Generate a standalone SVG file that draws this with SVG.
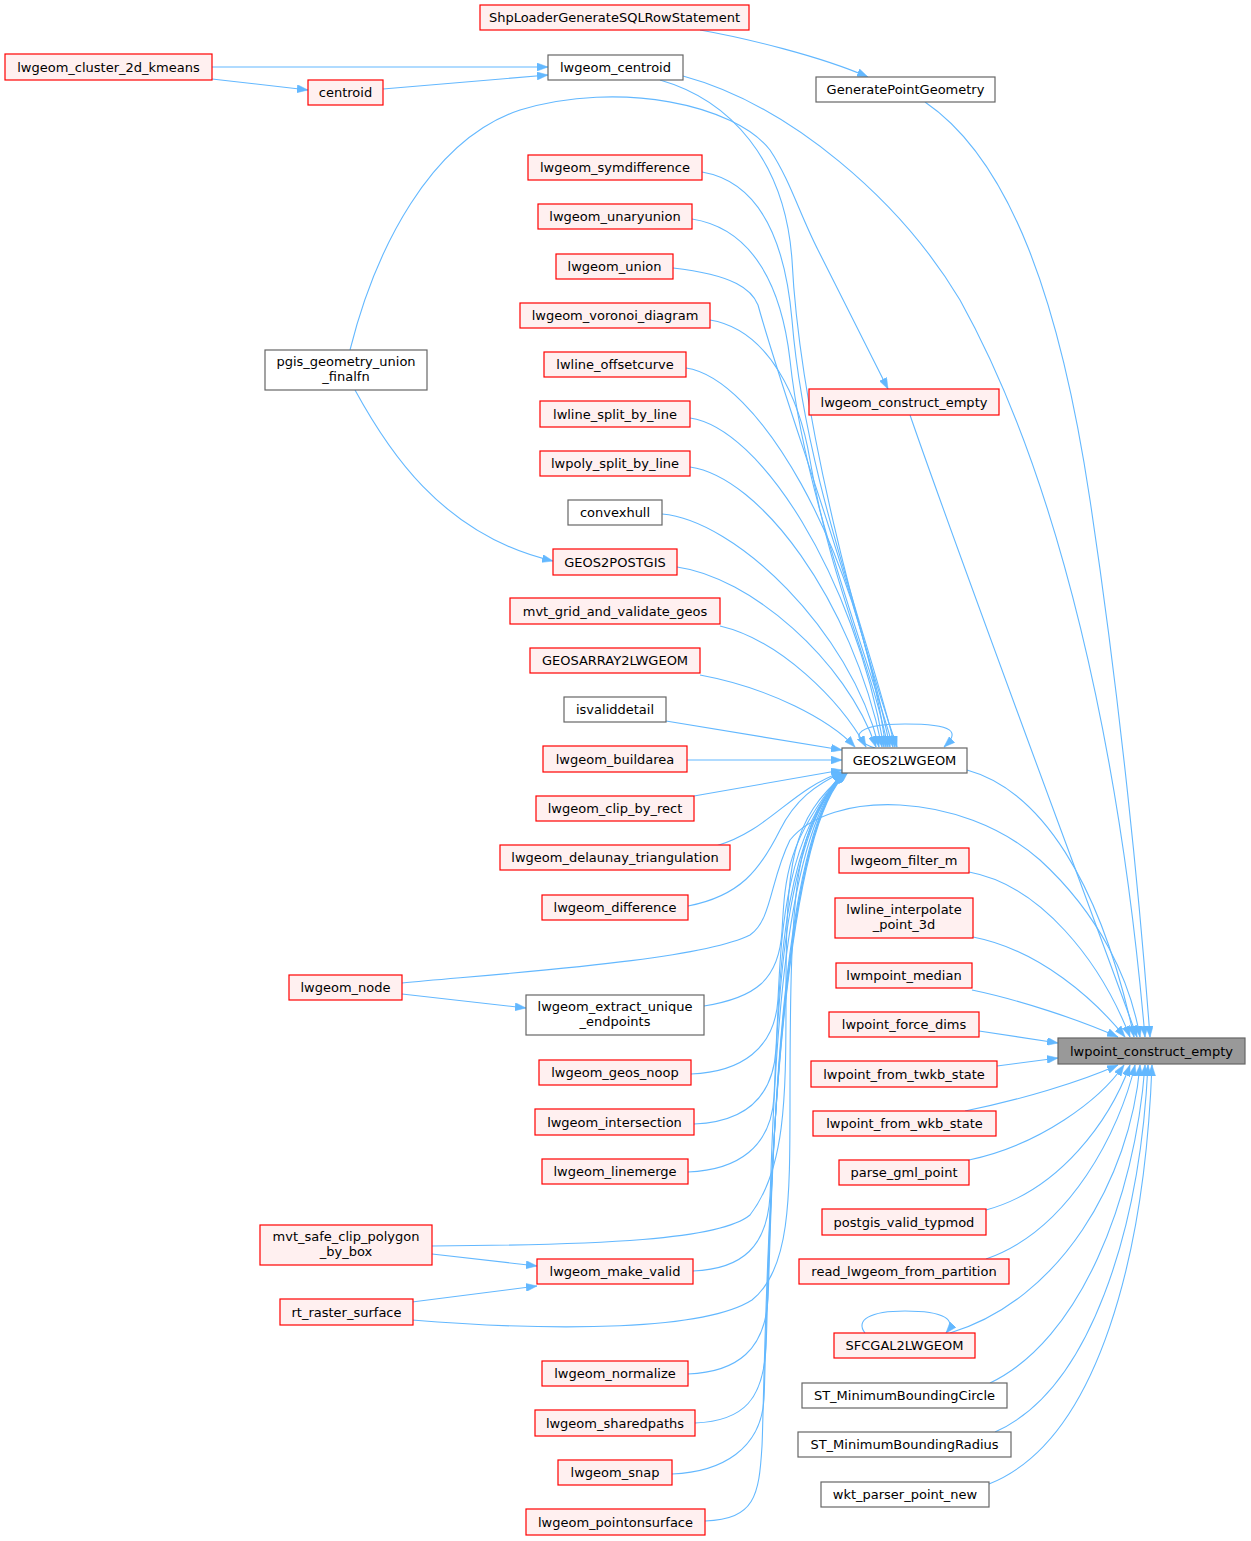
<svg xmlns="http://www.w3.org/2000/svg" width="1251" height="1541" viewBox="0 0 1251 1541">
<style>
.r rect{fill:#fff0f0;stroke:#ff0000;stroke-width:1.2}
.w rect{fill:#ffffff;stroke:#666666;stroke-width:1.2}
.t rect{fill:#999999;stroke:#666666;stroke-width:1.2}
text{font-family:"DejaVu Sans","Liberation Sans",sans-serif;font-size:13px;fill:#000;text-anchor:middle}
#edges path{fill:none;stroke:#63b8ff;stroke-width:1.1;marker-end:url(#ah)}
</style>
<defs>
<marker id="ah" markerUnits="userSpaceOnUse" markerWidth="11" markerHeight="8" viewBox="0 0 11 8" refX="11" refY="4" orient="auto">
<path d="M0,0 L11,4 L0,8 z" fill="#63b8ff" stroke="#63b8ff" stroke-width="0.5"/>
</marker>
</defs>
<rect width="1251" height="1541" fill="#ffffff"/>
<g id="edges">
<!-- column 1 to column 2 -->
<path d="M212,67 L548,67"/>
<path d="M212,79 L308,90"/>
<path d="M383,89 L548,75"/>
<path d="M700,30 C 745,38 820,56 868,77"/>
<path d="M355,390 C 385,445 440,535 553,561"/>
<path d="M350,350 C 375,250 430,140 520,110 C 620,80 735,105 770,150 C 790,180 800,215 818,250 L 888,389"/>
<path d="M402,994 L526,1008"/>
<path d="M432,1254 L537,1266"/>
<path d="M412,1302 L537,1286"/>
<!-- into GEOS2LWGEOM from above -->
<path d="M660,80 C 730,100 785,160 792,260 C 800,420 860,640 897,747"/>
<path d="M702,172 C 760,182 785,240 792,320 C 805,480 870,640 895,747"/>
<path d="M692,219 C 755,229 782,290 790,360 C 805,500 866,650 893,747"/>
<path d="M673,268 C 735,275 752,290 758,305 C 790,420 860,600 890,747"/>
<path d="M710,320 C 770,330 800,400 810,460 C 830,580 870,660 888,747"/>
<path d="M686,368 C 756,378 856,540 886,747"/>
<path d="M690,418 C 760,428 854,575 884,747"/>
<path d="M690,467 C 760,477 852,600 882,747"/>
<path d="M662,514 C 735,520 850,630 879,747"/>
<path d="M677,567 C 750,577 846,660 876,747"/>
<path d="M720,626 C 780,640 840,700 866,747"/>
<path d="M700,675 C 770,688 830,720 855,747"/>
<path d="M666,721 L842,750"/>
<path d="M687,760 L842,760"/>
<path d="M694,796 L842,770"/>
<!-- into GEOS2LWGEOM from below -->
<path d="M716,846 C 770,830 790,790 842,772"/>
<path d="M688,906 C 740,896 760,870 780,830 C 795,800 815,785 843,772"/>
<path d="M704,1006 C 754,998 779,981 782,931 C 785,876 787,840 843,772"/>
<path d="M691,1074 C 741,1072 775,1049 778,999 C 781,944 783,840 843,773"/>
<path d="M694,1124 C 744,1122 773,1099 776,1049 C 779,994 781,840 844,773"/>
<path d="M688,1172 C 738,1170 771,1147 774,1097 C 777,1042 779,840 844,773"/>
<path d="M693,1271 C 743,1269 767,1246 770,1196 C 773,1141 775,840 845,773"/>
<path d="M688,1374 C 738,1372 765,1349 768,1299 C 771,1244 773,840 845,773"/>
<path d="M695,1423 C 745,1421 763,1398 766,1348 C 769,1293 771,840 846,773"/>
<path d="M672,1474 C 722,1472 761,1449 764,1399 C 767,1344 769,840 846,773"/>
<path d="M705,1521 C 755,1519 759,1496 762,1446 C 765,1391 767,840 847,773"/>
<path d="M432,1246 C 600,1245 720,1240 750,1215 C 785,1170 786,1100 786,1000 C 786,860 790,820 847,772"/>
<path d="M412,1320 C 560,1332 705,1330 752,1300 C 790,1270 790,1200 790,1100 C 790,880 795,820 848,772"/>
<path d="M875,748 C 850,740 850,724 905,724 C 955,724 960,732 944,747"/>
<!-- into lwpoint_construct_empty -->
<path d="M402,983 C 520,972 700,960 750,935 C 772,920 770,880 790,840 C 830,790 960,790 1040,860 C 1100,915 1130,980 1140,1037"/>
<path d="M925,102 C 1010,160 1060,300 1090,500 C 1120,700 1140,900 1150,1037"/>
<path d="M683,76 C 790,105 900,200 960,300 C 1060,480 1120,750 1145,1037"/>
<path d="M910,415 C 960,560 1080,880 1137,1037"/>
<path d="M967,770 C 1040,790 1100,880 1134,1037"/>
<path d="M969,872 C 1040,885 1100,960 1130,1037"/>
<path d="M973,937 C 1040,950 1095,1000 1125,1037"/>
<path d="M972,990 C 1020,1000 1080,1020 1118,1037"/>
<path d="M979,1031 L1058,1043"/>
<path d="M997,1066 L1058,1058"/>
<path d="M965,1111 C 1020,1100 1080,1082 1118,1065"/>
<path d="M969,1160 C 1040,1145 1100,1100 1124,1065"/>
<path d="M986,1210 C 1060,1190 1110,1120 1130,1065"/>
<path d="M986,1259 C 1070,1230 1120,1130 1135,1065"/>
<path d="M950,1333 C 1060,1300 1130,1180 1140,1065"/>
<path d="M990,1383 C 1080,1340 1135,1200 1145,1065"/>
<path d="M995,1432 C 1090,1390 1140,1230 1148,1065"/>
<path d="M989,1484 C 1100,1440 1145,1250 1152,1065"/>
<path d="M865,1333 C 855,1320 870,1311 905,1311 C 945,1311 957,1320 946,1333"/>
</g>
<g id="n1" class="r"><rect x="5" y="54" width="207" height="26"/><text x="108.5" y="71.5">lwgeom_cluster_2d_kmeans</text></g>
<g id="n2" class="r"><rect x="308" y="80" width="75" height="25"/><text x="345.5" y="97">centroid</text></g>
<g id="n3" class="w"><rect x="265" y="350" width="162" height="40"/><text x="346" y="366">pgis_geometry_union</text><text x="346" y="381">_finalfn</text></g>
<g id="n4" class="r"><rect x="289" y="975" width="113" height="25"/><text x="345.5" y="992">lwgeom_node</text></g>
<g id="n5" class="r"><rect x="260" y="1225" width="172" height="40"/><text x="346" y="1241">mvt_safe_clip_polygon</text><text x="346" y="1256">_by_box</text></g>
<g id="n6" class="r"><rect x="280" y="1299" width="133" height="26"/><text x="346.5" y="1316.5">rt_raster_surface</text></g>
<g id="n7" class="r"><rect x="480" y="5" width="269" height="25"/><text x="614.5" y="22">ShpLoaderGenerateSQLRowStatement</text></g>
<g id="n8" class="w"><rect x="548" y="55" width="135" height="25"/><text x="615.5" y="72">lwgeom_centroid</text></g>
<g id="n9" class="r"><rect x="528" y="155" width="174" height="25"/><text x="615" y="172">lwgeom_symdifference</text></g>
<g id="n10" class="r"><rect x="538" y="204" width="154" height="25"/><text x="615" y="221">lwgeom_unaryunion</text></g>
<g id="n11" class="r"><rect x="556" y="254" width="117" height="25"/><text x="614.5" y="271">lwgeom_union</text></g>
<g id="n12" class="r"><rect x="520" y="303" width="190" height="25"/><text x="615" y="320">lwgeom_voronoi_diagram</text></g>
<g id="n13" class="r"><rect x="544" y="352" width="142" height="25"/><text x="615" y="369">lwline_offsetcurve</text></g>
<g id="n14" class="r"><rect x="540" y="401" width="150" height="26"/><text x="615" y="418.5">lwline_split_by_line</text></g>
<g id="n15" class="r"><rect x="540" y="451" width="150" height="25"/><text x="615" y="468">lwpoly_split_by_line</text></g>
<g id="n16" class="w"><rect x="568" y="500" width="94" height="25"/><text x="615" y="517">convexhull</text></g>
<g id="n17" class="r"><rect x="553" y="549" width="124" height="26"/><text x="615" y="566.5">GEOS2POSTGIS</text></g>
<g id="n18" class="r"><rect x="510" y="598" width="210" height="26"/><text x="615" y="615.5">mvt_grid_and_validate_geos</text></g>
<g id="n19" class="r"><rect x="530" y="648" width="170" height="25"/><text x="615" y="665">GEOSARRAY2LWGEOM</text></g>
<g id="n20" class="w"><rect x="564" y="697" width="102" height="25"/><text x="615" y="714">isvaliddetail</text></g>
<g id="n21" class="r"><rect x="543" y="746" width="144" height="26"/><text x="615" y="763.5">lwgeom_buildarea</text></g>
<g id="n22" class="r"><rect x="536" y="796" width="158" height="25"/><text x="615" y="813">lwgeom_clip_by_rect</text></g>
<g id="n23" class="r"><rect x="500" y="845" width="230" height="25"/><text x="615" y="862">lwgeom_delaunay_triangulation</text></g>
<g id="n24" class="r"><rect x="542" y="895" width="146" height="25"/><text x="615" y="912">lwgeom_difference</text></g>
<g id="n25" class="w"><rect x="526" y="995" width="178" height="40"/><text x="615" y="1011">lwgeom_extract_unique</text><text x="615" y="1026">_endpoints</text></g>
<g id="n26" class="r"><rect x="539" y="1060" width="152" height="25"/><text x="615" y="1077">lwgeom_geos_noop</text></g>
<g id="n27" class="r"><rect x="535" y="1109" width="159" height="26"/><text x="614.5" y="1126.5">lwgeom_intersection</text></g>
<g id="n28" class="r"><rect x="542" y="1159" width="146" height="25"/><text x="615" y="1176">lwgeom_linemerge</text></g>
<g id="n29" class="r"><rect x="537" y="1259" width="156" height="25"/><text x="615" y="1276">lwgeom_make_valid</text></g>
<g id="n30" class="r"><rect x="542" y="1361" width="146" height="25"/><text x="615" y="1378">lwgeom_normalize</text></g>
<g id="n31" class="r"><rect x="535" y="1410" width="160" height="26"/><text x="615" y="1427.5">lwgeom_sharedpaths</text></g>
<g id="n32" class="r"><rect x="558" y="1460" width="114" height="25"/><text x="615" y="1477">lwgeom_snap</text></g>
<g id="n33" class="r"><rect x="526" y="1509" width="179" height="26"/><text x="615.5" y="1526.5">lwgeom_pointonsurface</text></g>
<g id="n34" class="w"><rect x="816" y="77" width="179" height="25"/><text x="905.5" y="94">GeneratePointGeometry</text></g>
<g id="n35" class="r"><rect x="809" y="389" width="190" height="26"/><text x="904" y="406.5">lwgeom_construct_empty</text></g>
<g id="n36" class="w"><rect x="842" y="748" width="125" height="25"/><text x="904.5" y="765">GEOS2LWGEOM</text></g>
<g id="n37" class="r"><rect x="839" y="848" width="130" height="25"/><text x="904" y="865">lwgeom_filter_m</text></g>
<g id="n38" class="r"><rect x="835" y="898" width="138" height="40"/><text x="904" y="914">lwline_interpolate</text><text x="904" y="929">_point_3d</text></g>
<g id="n39" class="r"><rect x="836" y="963" width="136" height="25"/><text x="904" y="980">lwmpoint_median</text></g>
<g id="n40" class="r"><rect x="829" y="1012" width="150" height="25"/><text x="904" y="1029">lwpoint_force_dims</text></g>
<g id="n41" class="r"><rect x="811" y="1061" width="186" height="26"/><text x="904" y="1078.5">lwpoint_from_twkb_state</text></g>
<g id="n42" class="r"><rect x="813" y="1111" width="183" height="25"/><text x="904.5" y="1128">lwpoint_from_wkb_state</text></g>
<g id="n43" class="r"><rect x="839" y="1160" width="130" height="25"/><text x="904" y="1177">parse_gml_point</text></g>
<g id="n44" class="r"><rect x="822" y="1209" width="164" height="26"/><text x="904" y="1226.5">postgis_valid_typmod</text></g>
<g id="n45" class="r"><rect x="799" y="1259" width="210" height="25"/><text x="904" y="1276">read_lwgeom_from_partition</text></g>
<g id="n46" class="r"><rect x="834" y="1333" width="141" height="25"/><text x="904.5" y="1350">SFCGAL2LWGEOM</text></g>
<g id="n47" class="w"><rect x="802" y="1383" width="205" height="25"/><text x="904.5" y="1400">ST_MinimumBoundingCircle</text></g>
<g id="n48" class="w"><rect x="798" y="1432" width="213" height="25"/><text x="904.5" y="1449">ST_MinimumBoundingRadius</text></g>
<g id="n49" class="w"><rect x="821" y="1482" width="168" height="25"/><text x="905" y="1499">wkt_parser_point_new</text></g>
<g id="n50" class="t"><rect x="1058" y="1038" width="187" height="26"/><text x="1151.5" y="1055.5">lwpoint_construct_empty</text></g>
</svg>
